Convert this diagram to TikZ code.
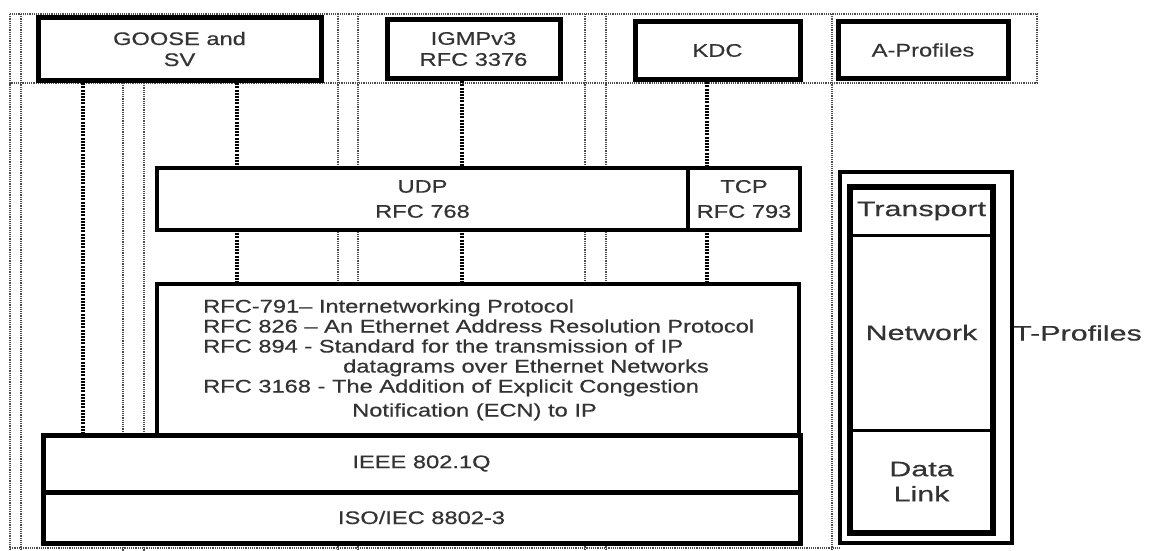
\documentclass[tikz,border=0pt]{standalone}
\usepackage{fontspec}
\setmainfont{Liberation Sans}[FakeStretch=1.3, FakeBold=0.5]
\newfontfamily\colfont{Liberation Sans}[FakeStretch=1.45, FakeBold=0.5]
\newcommand\lblfont{\fontsize{18.2}{21}\selectfont}
\newcommand\colfontsz{\colfont\fontsize{21}{25}\selectfont}
\tikzset{
  box/.style={draw, line width=5pt, fill=white, inner sep=0pt, outer sep=0pt,
    align=center, font=\lblfont, text=black!80},
  cell/.style={draw, line width=3pt, fill=white, inner sep=0pt, outer sep=0pt,
    align=center, font=\colfontsz, text=black!80,
    minimum width=143pt},
  iptext/.style={anchor=base west, inner sep=0pt, font=\lblfont, text=black!80},
  conn/.style={line width=3.4pt, black, dash pattern=on 2pt off 1.2pt},
  grid/.style={line width=2.2pt, black!70, dash pattern=on 1.2pt off 1pt},
}
\begin{document}
\begin{tikzpicture}[x=1pt, y=-1pt]
\fill[white] (0,0) rectangle (1153,551);
\useasboundingbox (0,0) rectangle (1153,551);

% background dotted frame and guide lines
\draw[grid] (10,14) rectangle (1037,83);
\draw[grid] (10,14) -- (10,551);
\draw[grid] (21,14) -- (21,551);
\draw[grid] (10,548) -- (840,548);
\foreach \gx in {123,144} \draw[grid] (\gx,83) -- (\gx,551);
\foreach \gx in {338,358,585,606,832} \draw[grid] (\gx,14) -- (\gx,551);

% application profile boxes
\node[box, minimum width=283pt, minimum height=62pt] (goose) at (179.5,49) {GOOSE and\\SV};
\node[box, minimum width=173pt, minimum height=58pt] (igmp) at (473.5,49) {IGMPv3\\RFC 3376};
\node[box, minimum width=165pt, minimum height=57pt] (kdc) at (717.5,50.5) {KDC};
\node[box, minimum width=170pt, minimum height=56pt] (aprof) at (923,50) {A-Profiles};

% transport layer
\node[box, line width=4.5pt, minimum width=531pt, minimum height=62pt] (udp) at (422.5,199) {UDP\\[4pt]RFC 768};
\node[box, line width=4.5pt, minimum width=112pt, minimum height=62pt] (tcp) at (744,199) {TCP\\[4pt]RFC 793};

% network layer
\node[box, line width=4.5pt, minimum width=642pt, minimum height=151pt] (ip) at (478,359.5) {};
\node[iptext] (ip1) at (203,312.5) {RFC-791– Internetworking Protocol};
\node[iptext] (ip2) at (203,332.5) {RFC 826 – An Ethernet Address Resolution Protocol};
\node[iptext] (ip3) at (203,352.5) {RFC 894 - Standard for the transmission of IP};
\node[iptext] (ip4) at (343,372.5) {datagrams over Ethernet Networks};
\node[iptext] (ip5) at (203,392.5) {RFC 3168 - The Addition of Explicit Congestion};
\node[iptext] (ip6) at (352,416.5) {Notification (ECN) to IP};

% link layer
\node[box, minimum width=757pt, minimum height=57pt] (ieee) at (421.5,463.5) {IEEE 802.1Q};
\node[box, minimum width=757pt, minimum height=51pt] (iso) at (421.5,517.5) {ISO/IEC 8802-3};
\draw[line width=3pt] (ieee.south west) -- (ieee.south east);

% connectors between layers
\coordinate (cA) at (83,0);
\coordinate (cB) at (237,0);
\coordinate (cC) at (462,0);
\coordinate (cD) at (707,0);
\draw[conn] (cA |- goose.south) -- (cA |- ieee.north);
\draw[conn] (cB |- goose.south) -- (cB |- udp.north);
\draw[conn] (cB |- udp.south) -- (cB |- ip.north);
\draw[conn] (cC |- igmp.south) -- (cC |- udp.north);
\draw[conn] (cC |- udp.south) -- (cC |- ip.north);
\draw[conn] (cD |- kdc.south) -- (cD |- tcp.north);
\draw[conn] (cD |- tcp.south) -- (cD |- ip.north);

% T-profile column
\node[draw, line width=4.5pt, fill=white, inner sep=0pt, outer sep=0pt,
  minimum width=172pt, minimum height=371pt] (tframe) at (926,357.5) {};
\node[cell, minimum height=48pt] (transport) at (921.5,211) {Transport};
\node[cell, minimum height=195pt] (network) at (921.5,332.5) {Network};
\node[cell, minimum height=103pt, align=center] (datalink) at (921.5,481.5) {Data\\Link};
\draw[line width=5.5pt] (transport.north west) rectangle (datalink.south east);
\node[font=\colfontsz, text=black!80, anchor=west, inner sep=0pt] (tprof) at (1013,333) {T-Profiles};

\end{tikzpicture}
\end{document}
